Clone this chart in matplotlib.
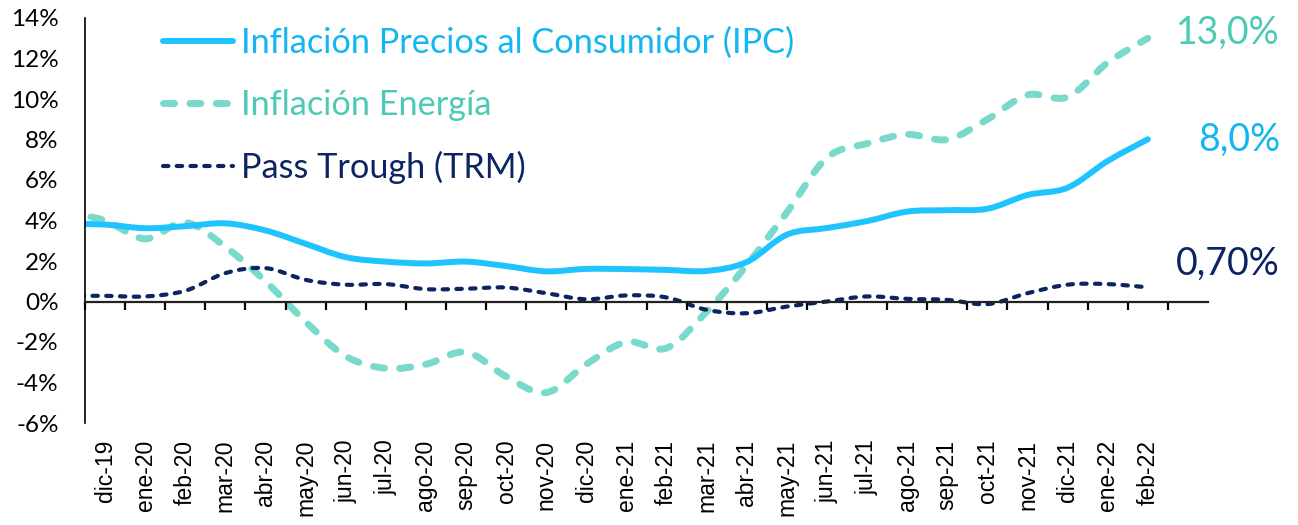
import numpy as np
import matplotlib
matplotlib.use("Agg")
import matplotlib.pyplot as plt
from matplotlib.path import Path
from matplotlib.patches import PathPatch
from matplotlib.lines import Line2D


# monthly data, nov-19 .. feb-22 (nov-19 only feeds the clipped first segment)
months = ["nov-19", "dic-19", "ene-20", "feb-20", "mar-20", "abr-20", "may-20", "jun-20",
          "jul-20", "ago-20", "sep-20", "oct-20", "nov-20", "dic-20", "ene-21", "feb-21",
          "mar-21", "abr-21", "may-21", "jun-21", "jul-21", "ago-21", "sep-21", "oct-21",
          "nov-21", "dic-21", "ene-22", "feb-22"]

ipc = [3.84, 3.80, 3.62, 3.72, 3.86, 3.51, 2.85, 2.19, 1.97, 1.88, 1.97, 1.75, 1.49, 1.61,
       1.60, 1.56, 1.51, 1.95, 3.30, 3.63, 3.97, 4.44, 4.51, 4.58, 5.26, 5.62, 6.94, 8.01]

energia = [4.4, 4.0, 3.1, 3.9, 2.7, 1.0, -1.0, -2.7, -3.3, -3.1, -2.5, -3.7, -4.5, -3.1,
           -2.0, -2.3, -0.5, 1.8, 4.4, 7.1, 7.8, 8.25, 8.0, 9.0, 10.2, 10.1, 11.8, 13.0]

pass_trm = [0.28, 0.28, 0.25, 0.53, 1.4, 1.65, 1.07, 0.83, 0.86, 0.61, 0.63, 0.69, 0.41, 0.11,
            0.30, 0.20, -0.41, -0.58, -0.25, 0.0, 0.25, 0.13, 0.08, -0.13, 0.41, 0.83, 0.86, 0.70]

series_names = ["Inflación Precios al Consumidor (IPC)", "Inflación Energía", "Pass Trough (TRM)"]
end_labels = ["8,0%", "13,0%", "0,70%"]

FONT = "Lato"


def smooth_path(xs, ys):
    # excel-like smoothed line: catmull-rom turned into cubic bezier segments
    pts = np.column_stack([xs, ys])
    n = len(pts)
    verts = [pts[0]]
    codes = [Path.MOVETO]
    for i in range(n - 1):
        p0 = pts[i - 1] if i > 0 else pts[i]
        p1 = pts[i]
        p2 = pts[i + 1]
        p3 = pts[i + 2] if i + 2 < n else pts[i + 1]
        c1 = p1 + (p2 - p0) / 6.0
        c2 = p2 - (p3 - p1) / 6.0
        verts += [c1, c2, p2]
        codes += [Path.CURVE4] * 3
    return Path(verts, codes)


x = np.arange(len(months)) - 1

fig = plt.figure(figsize=(12.98, 5.25), dpi=100)
ax = fig.add_axes([85 / 1298, 102 / 525, 1123 / 1298, 405 / 525])

styles = [
    dict(color="#1FC3FD", lw=4.3, ls="-", txt="#12B6F0"),
    dict(color="#79D9CB", lw=5.0, ls=(0, (1.6, 2.2)), txt="#4CCAB6"),
    dict(color="#0C2462", lw=3.0, ls=(0, (1.3, 2.0)), txt="#0C2462"),
]
all_series = [ipc, energia, pass_trm]

handles = []
# draw energy first so ipc sits on top like the original
for k in [1, 0, 2]:
    st = styles[k]
    patch = PathPatch(smooth_path(x, all_series[k]), fill=False, edgecolor=st["color"],
                      lw=st["lw"], ls=st["ls"], capstyle="round", joinstyle="round")
    ax.add_patch(patch)

for k in range(3):
    st = styles[k]
    handles.append(Line2D([], [], color=st["color"], lw=st["lw"], ls=st["ls"],
                          solid_capstyle="round", dash_capstyle="round"))

ax.set_xlim(-0.5, 27.5)
ax.set_ylim(-6, 14)

# spines
for s in ["top", "right"]:
    ax.spines[s].set_visible(False)
ax.spines["left"].set_linewidth(1.2)
ax.spines["bottom"].set_position(("data", 0))
ax.spines["bottom"].set_linewidth(1.6)
ax.spines["bottom"].set_color("#222222")

# y axis
ax.set_yticks(np.arange(-6, 15, 2))
ax.set_yticklabels([f"{v}%" for v in range(-6, 15, 2)], fontname=FONT, fontsize=17.5)
ax.tick_params(axis="y", length=0, pad=19)

# x axis: tick marks on the zero line between months, labels at the bottom
ax.set_xticks(np.arange(-0.5, 27, 1))
ax.tick_params(axis="x", direction="out", length=6, width=1.6, labelbottom=False)

sec = ax.secondary_xaxis("bottom")
sec.spines["bottom"].set_visible(False)
sec.set_xticks(x[1:])
sec.set_xticklabels(months[1:], rotation=90, fontname="Liberation Sans", fontsize=16.5)
sec.tick_params(axis="x", length=0, pad=12)

leg = ax.legend(handles, series_names, loc="upper left", bbox_to_anchor=(0.0697, 0.979),
                frameon=False, prop={"family": FONT, "size": 24.7}, handlelength=2.04,
                handletextpad=0.23, labelspacing=0.87, borderpad=0, borderaxespad=0)
for t, st in zip(leg.get_texts(), styles):
    t.set_color(st["txt"])

# end of line labels
offsets = [0, 4, 17]
for k in range(3):
    ax.annotate(end_labels[k], xy=(x[-1], all_series[k][-1]), xytext=(95, offsets[k]),
                textcoords="offset points", ha="right", va="center",
                fontname=FONT, fontsize=27, color=styles[k]["txt"], annotation_clip=False)

fig.savefig("out.png", dpi=100)
